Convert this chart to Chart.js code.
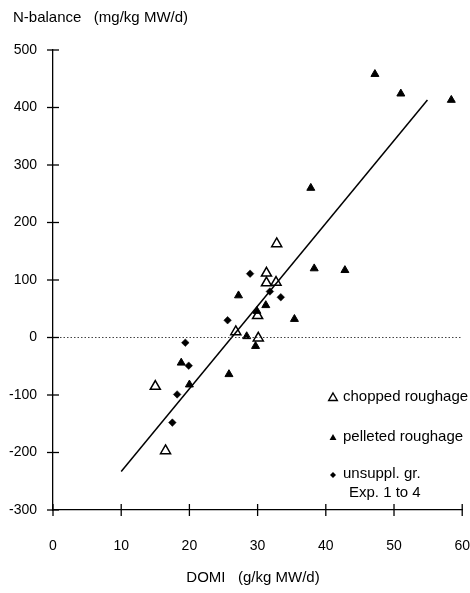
<!DOCTYPE html>
<html>
<head>
<meta charset="utf-8">
<script src="https://cdn.jsdelivr.net/npm/chart.js@4.4.0/dist/chart.umd.min.js"></script>
<style>
  html, body { margin: 0; padding: 0; background: #fff; }
</style>
</head>
<body>
<canvas id="nChart" width="470" height="593"></canvas>
<script>
// DOMI (g/kg MW/d) against N-balance (mg/kg MW/d)
const choppedX = [32.8, 31.3, 31.3, 32.7, 30.0, 26.8, 30.1, 15.0, 16.5];
const choppedY = [163, 112, 95, 96, 38, 10, -1, -85, -197];

const pelletedX = [47.2, 51.0, 58.4, 37.8, 38.3, 42.8, 27.2, 31.2, 29.9, 35.4, 28.4, 29.7, 18.8, 25.8, 20.0];
const pelletedY = [458, 424, 413, 260, 120, 117, 73, 56, 46, 32, 2, -15, -44, -64, -82];

const unsupplX = [28.9, 31.8, 33.4, 25.6, 19.4, 19.9, 18.2, 17.5];
const unsupplY = [111, 80, 70, 30, -9, -49, -99, -148];

// regression line end points
const fitX = [10, 54.9];
const fitY = [-233, 413];

const xTicks = [0, 10, 20, 30, 40, 50, 60];
const yTicks = [-300, -200, -100, 0, 100, 200, 300, 400, 500];

const seriesLabels = ['chopped roughage', 'pelleted roughage', 'unsuppl. gr.'];
const legendNote = 'Exp. 1 to 4';
const yTitle = 'N-balance   (mg/kg MW/d)';
const xTitle = 'DOMI   (g/kg MW/d)';

const FONT = '"Liberation Sans", Arial, sans-serif';

const toPoints = (xs, ys) => xs.map((v, i) => ({ x: v, y: ys[i] }));

function drawMarker(ctx, kind, px, py, r) {
    ctx.beginPath();
    if (kind === 'diamond') {
        ctx.moveTo(px, py - r);
        ctx.lineTo(px + r, py);
        ctx.lineTo(px, py + r);
        ctx.lineTo(px - r, py);
    } else {
        ctx.moveTo(px, py - r);
        ctx.lineTo(px + r * 0.866, py + r * 0.5);
        ctx.lineTo(px - r * 0.866, py + r * 0.5);
    }
    ctx.closePath();
    if (kind === 'open') {
        ctx.fillStyle = '#fff';
        ctx.fill();
        ctx.lineWidth = 1.4;
        ctx.stroke();
    } else {
        ctx.fillStyle = '#000';
        ctx.fill();
    }
}

const extras = {
    id: 'extras',
    afterDraw(chart) {
        const { ctx, scales: { x, y } } = chart;
        ctx.save();
        ctx.strokeStyle = '#000';
        ctx.lineWidth = 1.3;

        // tick marks crossing both axes
        yTicks.forEach(v => {
            const py = y.getPixelForValue(v);
            ctx.beginPath();
            ctx.moveTo(x.left - 6, py);
            ctx.lineTo(x.left + 6, py);
            ctx.stroke();
        });
        xTicks.forEach(v => {
            const px = x.getPixelForValue(v);
            ctx.beginPath();
            ctx.moveTo(px, y.bottom - 6);
            ctx.lineTo(px, y.bottom + 6);
            ctx.stroke();
        });

        ctx.fillStyle = '#000';
        ctx.font = '15px ' + FONT;
        ctx.textBaseline = 'middle';
        ctx.textAlign = 'left';
        ctx.fillText(yTitle, 13, 18);
        ctx.textAlign = 'center';
        ctx.fillText(xTitle, 253, 578);

        // legend
        const rows = [397, 437, 474];
        const kinds = ['open', 'filled', 'diamond'];
        const sizes = [5, 4, 3];
        ctx.strokeStyle = '#000';
        rows.forEach((ry, i) => {
            drawMarker(ctx, kinds[i], 333, ry + 1, sizes[i]);
            ctx.fillStyle = '#000';
            ctx.textAlign = 'left';
            ctx.fillText(seriesLabels[i], 343, ry);
        });
        ctx.fillText(legendNote, 349, 493);
        ctx.restore();
    }
};

new Chart(document.getElementById('nChart'), {
    type: 'scatter',
    data: {
        datasets: [
            {
                label: 'zero',
                data: [{ x: 0, y: 0 }, { x: 60, y: 0 }],
                showLine: true,
                borderColor: '#444',
                borderWidth: 1,
                borderDash: [1.5, 2],
                pointRadius: 0
            },
            {
                label: 'fit',
                data: toPoints(fitX, fitY),
                showLine: true,
                borderColor: '#000',
                borderWidth: 1.5,
                pointRadius: 0
            },
            {
                label: seriesLabels[1],
                data: toPoints(pelletedX, pelletedY),
                pointStyle: 'triangle',
                pointRadius: 4.6,
                backgroundColor: '#000',
                borderColor: '#000',
                borderWidth: 1
            },
            {
                label: seriesLabels[2],
                data: toPoints(unsupplX, unsupplY),
                pointStyle: 'rectRot',
                pointRadius: 3.8,
                backgroundColor: '#000',
                borderColor: '#000',
                borderWidth: 0.5
            },
            {
                label: seriesLabels[0],
                data: toPoints(choppedX, choppedY),
                pointStyle: 'triangle',
                pointRadius: 5.8,
                backgroundColor: '#fff',
                borderColor: '#000',
                borderWidth: 1.5
            }
        ]
    },
    options: {
        responsive: false,
        animation: false,
        layout: { padding: { top: 50, right: 7, left: 0, bottom: 0 } },
        plugins: {
            legend: { display: false },
            tooltip: { enabled: false }
        },
        scales: {
            x: {
                type: 'linear',
                min: 0,
                max: 60,
                afterFit: scale => { scale.height = 83; },
                afterBuildTicks: scale => { scale.ticks = xTicks.map(v => ({ value: v })); },
                grid: { display: false, drawTicks: true, tickLength: 28 },
                border: { display: true, color: '#000', width: 1.3 },
                ticks: { color: '#000', padding: 0, font: { family: FONT, size: 14 } }
            },
            y: {
                type: 'linear',
                min: -300,
                max: 500,
                afterFit: scale => { scale.width = 53; },
                afterBuildTicks: scale => { scale.ticks = yTicks.map(v => ({ value: v })); },
                grid: { display: false, drawTicks: true, tickLength: 12 },
                border: { display: true, color: '#000', width: 1.3 },
                ticks: { color: '#000', padding: 4, font: { family: FONT, size: 14 } }
            }
        }
    },
    plugins: [extras]
});
</script>
</body>
</html>
